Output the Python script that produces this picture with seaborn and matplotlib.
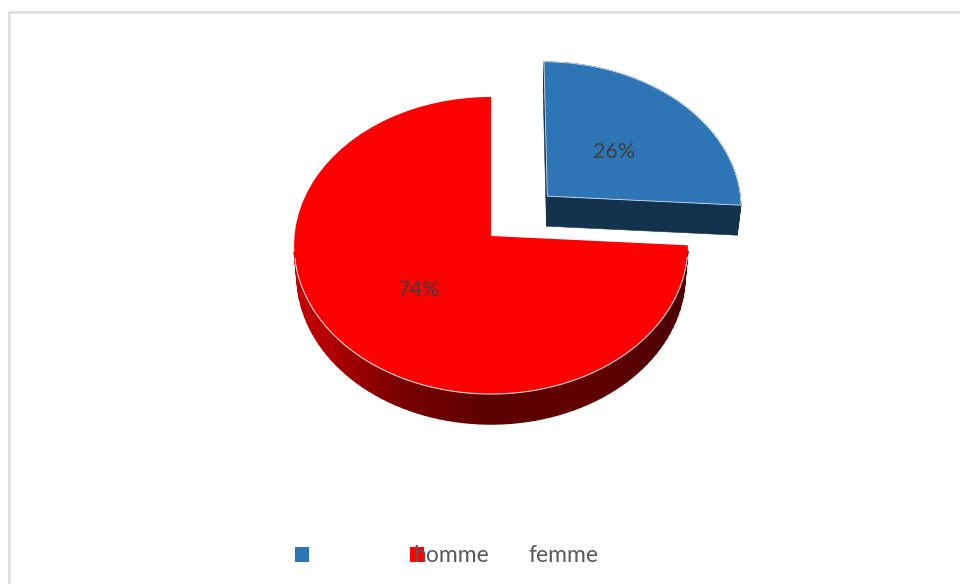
import numpy as np
import matplotlib
matplotlib.use("Agg")
import matplotlib.pyplot as plt
import seaborn as sns
from matplotlib.collections import PolyCollection
from matplotlib.transforms import Transform

# data
categories = ["homme", "femme"]
shares = [26, 74]
colors = ["#2e75b6", "#ff0000"]
wall_blue = "#12324e"
wall_reds = ["#c80000", "#7c0000", "#5a0000", "#620000", "#4c0000"]


# tilted pie: unit circle -> image pixels, with a bit of perspective
class PieView(Transform):
    input_dims = 2
    output_dims = 2
    is_separable = False

    def __init__(self, drop=0, shrink=1.0):
        super().__init__()
        self.drop = drop
        self.shrink = shrink

    def transform_non_affine(self, values):
        values = np.asarray(values, dtype=float)
        x, y = values[:, 0], values[:, 1]
        w = 1 + 0.064 * y
        px = 491 + 196.5 * self.shrink * x / w
        py = 584 - (170.2 * y + 348) / w + self.drop
        return np.column_stack([px, py])


sns.set_theme(style="white")
plt.rcParams["font.family"] = ["Lato", "DejaVu Sans"]

fig, ax = plt.subplots(figsize=(9.6, 5.84), dpi=100)
fig.subplots_adjust(left=0, right=1, bottom=0, top=1)

wedges, texts, autotexts = ax.pie(
    shares,
    colors=colors,
    explode=[0.40, 0],
    startangle=90,
    counterclock=False,
    autopct="%d%%",
    pctdistance=0.49,
    textprops={"color": "#404040", "fontsize": 15.5},
    wedgeprops={"linewidth": 0},
)
ax.set_aspect("auto")
ax.set_xlim(0, 960)
ax.set_ylim(584, 0)

top_view = PieView()
low_view = PieView(drop=30, shrink=0.985)
for w in wedges:
    w.set_transform(top_view + ax.transData)
    w.set_zorder(3)
for t in autotexts:
    t.set_transform(top_view + ax.transData)
    x0, y0 = t.get_position()
    t.set_position((x0, y0 - 0.02))
    t.set_zorder(5)
wedges[0].set_linewidth(0.6)
wedges[0].set_edgecolor("#cfe0ef")

# side walls, built from the wedges themselves
red_map = sns.blend_palette(wall_reds, as_cmap=True)
for w, is_red in zip(wedges, [False, True]):
    ang = np.radians(np.linspace(w.theta1, w.theta2, 120))
    cx, cy = w.center
    arc = np.column_stack([cx + w.r * np.cos(ang), cy + w.r * np.sin(ang)])
    if is_red:
        # only the front of the red rim can be seen
        front = arc[arc[:, 1] < -0.1]
        a = top_view.transform_non_affine(front)
        b = low_view.transform_non_affine(front)
        quads = [[a[i], a[i + 1], b[i + 1], b[i]] for i in range(len(a) - 1)]
        mids = [(q[0][0] + q[1][0]) / 2 for q in quads]
        cols = red_map((np.array(mids) - 296) / (686 - 296))
        lw = 1.0
        # pale highlight on the front edge of the top face
        edge = top_view.transform_non_affine(arc[arc[:, 1] < -0.12])
        ax.plot(edge[:, 0], edge[:, 1], color="#f2d8d8", lw=0.8, zorder=4)
    else:
        rim = np.vstack([[cx, cy], arc, [cx, cy]])
        a = top_view.transform_non_affine(rim)
        b = low_view.transform_non_affine(rim)
        quads = [[a[i], a[i + 1], b[i + 1], b[i]] for i in range(len(a) - 1)]
        cols = wall_blue
        lw = 0.4
    ax.add_collection(PolyCollection(quads, facecolors=cols, edgecolors=cols, linewidths=lw, zorder=2))

# chart frame
ax.plot([9.3, 9.3, 961], [585, 12, 12], color="#dcdcdc", lw=1.8, zorder=1, solid_joinstyle="miter")

# legend: squares and labels are offset from each other like in the original
marks = ax.legend(
    wedges,
    ["", ""],
    ncols=2,
    loc="center left",
    bbox_to_anchor=(295, 556),
    bbox_transform=ax.transData,
    frameon=False,
    fontsize=16.5,
    handlelength=0.61,
    handleheight=0.61,
    handletextpad=0,
    columnspacing=4.41,
    borderpad=0,
    borderaxespad=0,
)
for h in marks.legend_handles:
    h.set_linewidth(0)
ax.add_artist(marks)

names = ax.legend(
    wedges,
    categories,
    ncols=2,
    loc="center left",
    bbox_to_anchor=(413, 555),
    bbox_transform=ax.transData,
    frameon=False,
    fontsize=16.5,
    labelcolor="#595959",
    handlelength=0,
    handletextpad=0,
    columnspacing=1.75,
    borderpad=0,
    borderaxespad=0,
)
for h in names.legend_handles:
    h.set_visible(False)

plt.savefig("out.png", dpi=100)
